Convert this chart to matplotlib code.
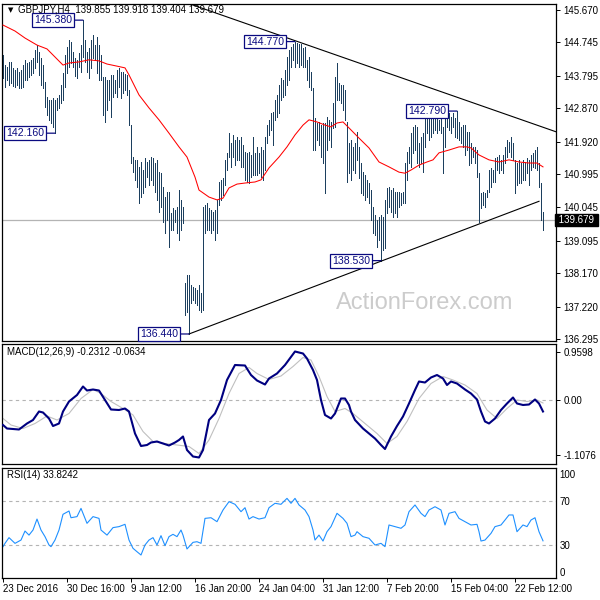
import matplotlib
matplotlib.use('Agg')
import matplotlib.pyplot as plt
import matplotlib.transforms as mtransforms

plt.rcParams['font.family'] = ['Liberation Sans', 'DejaVu Sans']

# ---------------- data ----------------
highs = [
    144.39, 144.10, 144.05, 144.19, 144.19, 144.02, 143.96, 144.02, 143.90, 143.96,
    144.10, 144.25, 144.16, 144.19, 144.25, 144.30, 144.53, 144.67, 144.47, 144.30,
    144.10, 143.62, 143.19, 143.11, 143.11, 143.16, 143.11, 143.16, 143.25, 143.53,
    143.88, 144.39, 144.62, 144.82, 144.76, 144.47, 144.30, 144.25, 144.45, 144.67,
    145.38, 144.82, 144.47, 144.59, 144.82, 144.96, 144.67, 144.90, 144.67, 144.39,
    143.76, 143.76, 143.68, 143.68, 143.82, 143.82, 143.68, 143.96, 144.02, 143.90,
    143.90, 143.85, 143.82, 143.39, 142.39, 141.48, 141.40, 141.40, 141.20, 141.34,
    141.11, 141.45, 141.34, 141.40, 141.48, 141.45, 141.31, 141.40, 141.05, 141.02,
    140.63, 140.34, 140.48, 140.48, 139.88, 140.03, 139.97, 140.06, 140.54, 140.26,
    140.06, 137.89, 138.12, 138.12, 137.83, 137.78, 137.75, 137.69, 137.83, 137.60,
    140.06, 140.11, 140.17, 140.03, 139.97, 139.91, 139.97, 140.26, 140.77, 140.83,
    140.88, 141.40, 141.60, 142.16, 141.88, 142.11, 141.97, 142.05, 141.97, 142.05,
    141.82, 141.62, 141.60, 141.62, 141.54, 142.05, 141.60, 141.77, 141.60, 141.77,
    141.68, 142.05, 142.39, 142.54, 142.74, 142.76, 143.11, 143.25, 143.53, 143.73,
    143.68, 143.96, 144.33, 144.53, 144.62, 144.70, 144.77, 144.72, 144.70, 144.71,
    144.59, 144.62, 144.25, 144.33, 143.90, 143.45, 142.59, 142.45, 142.48, 142.39,
    142.45, 142.45, 142.62, 142.54, 142.48, 143.02, 143.76, 144.16, 143.59, 143.53,
    143.53, 143.39, 142.48, 141.88, 141.97, 141.77, 141.88, 142.19, 141.77, 141.31,
    141.05, 140.97, 140.83, 140.74, 140.54, 140.06, 139.83, 139.69, 139.77, 139.83,
    139.77, 140.26, 140.60, 140.63, 140.54, 140.60, 140.48, 140.48, 140.48, 140.45,
    140.48, 141.31, 141.62, 141.77, 142.16, 142.34, 142.39, 142.34, 141.88, 142.05,
    142.16, 142.68, 142.74, 142.59, 142.59, 142.62, 142.59, 142.62, 142.54, 142.74,
    142.34, 142.62, 142.75, 142.74, 142.62, 142.74, 142.59, 142.79, 142.48, 142.34,
    142.39, 142.39, 142.19, 142.19, 141.88, 141.77, 141.77, 141.68, 141.02, 140.45,
    140.48, 140.45, 140.54, 141.11, 141.17, 141.11, 141.45, 141.48, 141.54, 141.40,
    141.54, 141.77, 141.97, 141.91, 142.05, 141.88, 141.40, 141.31, 141.40, 141.31,
    141.40, 141.34, 141.45, 141.40, 141.54, 141.60, 141.68, 141.77, 141.31, 140.74,
    139.918,
]
lows = [
    143.73, 143.48, 143.68, 143.53, 143.59, 143.51, 143.48, 143.53, 143.45, 143.45,
    143.48, 143.68, 143.68, 143.76, 143.82, 143.88, 144.02, 144.19, 143.82, 143.53,
    143.45, 142.91, 142.68, 142.54, 142.45, 142.34, 142.16, 142.82, 142.88, 143.02,
    143.11, 143.48, 143.88, 144.05, 144.16, 144.05, 143.79, 143.73, 144.05, 143.90,
    144.33, 144.19, 143.90, 143.73, 144.02, 144.30, 144.25, 143.88, 143.68, 143.68,
    142.68, 142.48, 142.82, 143.11, 142.62, 143.19, 143.30, 143.19, 143.48, 143.16,
    143.30, 143.39, 143.25, 142.39, 141.31, 141.05, 140.83, 140.63, 140.17, 140.34,
    140.45, 140.63, 140.91, 140.68, 140.83, 140.68, 140.48, 140.26, 139.91, 140.06,
    139.63, 139.32, 139.69, 138.92, 139.40, 139.40, 139.63, 139.32, 139.12, 139.40,
    139.60, 136.98, 137.06, 136.44, 137.32, 137.41, 137.32, 137.26, 137.12, 137.06,
    137.12, 139.32, 139.40, 139.40, 139.32, 139.40, 139.12, 139.32, 140.11, 140.26,
    140.40, 140.68, 141.11, 141.48, 141.20, 141.48, 141.25, 141.40, 141.40, 141.20,
    141.20, 140.83, 140.77, 140.74, 140.91, 140.97, 140.97, 140.97, 141.02, 140.91,
    140.83, 141.11, 141.88, 142.11, 142.25, 141.82, 142.54, 142.62, 142.74, 143.11,
    143.19, 143.25, 143.53, 143.68, 144.05, 144.25, 144.05, 144.16, 144.05, 144.10,
    144.05, 144.05, 143.68, 143.48, 143.39, 141.68, 141.68, 141.97, 141.82, 141.48,
    141.31, 140.45, 141.68, 141.97, 141.77, 142.31, 142.34, 143.11, 143.11, 143.02,
    142.82, 142.54, 140.77, 141.02, 140.83, 141.11, 141.02, 141.40, 140.88, 140.45,
    140.40, 140.26, 140.34, 140.17, 139.69, 139.32, 139.26, 138.92, 139.12, 138.53,
    138.83, 138.89, 139.88, 140.06, 139.91, 139.77, 139.88, 139.77, 140.06, 140.11,
    140.17, 140.17, 140.83, 141.31, 141.20, 141.60, 141.68, 141.31, 141.20, 141.31,
    141.05, 141.77, 142.16, 141.97, 142.05, 142.16, 142.25, 142.16, 142.25, 142.16,
    141.02, 141.77, 142.34, 142.25, 142.16, 142.34, 142.05, 142.02, 141.97, 141.88,
    141.77, 141.54, 141.68, 141.25, 141.31, 141.48, 141.31, 140.91, 139.63, 140.03,
    140.11, 140.06, 140.34, 140.48, 140.63, 140.77, 140.77, 141.11, 141.02, 141.11,
    141.02, 141.31, 141.48, 141.62, 141.48, 141.40, 140.45, 140.68, 140.74, 140.74,
    140.83, 140.83, 141.02, 140.68, 141.11, 141.20, 141.17, 141.11, 140.63, 139.69,
    139.404,
]
bar_idx = list(range(len(highs)))

ma_idx = [0, 6, 11, 17, 22, 26, 30, 33, 38, 43,
          48, 52, 57, 61, 63, 68, 73, 78, 83, 88,
          92, 96, 98, 103, 107, 110, 113, 117, 121, 126,
          129, 133, 138, 142, 146, 150, 153, 157, 161, 164,
          167, 170, 173, 178, 183, 188, 193, 198, 201, 204,
          208, 212, 215, 218, 223, 228, 232, 234, 238, 243,
          248, 253, 258, 263, 267, 270]
ma_vals = [145.24, 145.07, 144.87, 144.67, 144.56, 144.33, 144.10, 144.16, 144.19, 144.25,
           144.22, 144.13, 144.07, 144.02, 143.82, 143.25, 142.88, 142.54, 142.16, 141.77,
           141.48, 140.91, 140.54, 140.34, 140.26, 140.31, 140.60, 140.71, 140.74, 140.77,
           140.83, 141.17, 141.48, 141.77, 142.11, 142.39, 142.54, 142.48, 142.39, 142.34,
           142.45, 142.48, 142.31, 142.02, 141.74, 141.34, 141.20, 141.05, 141.02, 141.11,
           141.25, 141.34, 141.40, 141.60, 141.68, 141.77, 141.77, 141.74, 141.54, 141.40,
           141.34, 141.40, 141.34, 141.31, 141.31, 141.20]

macd_idx = [0, 2, 8, 12, 15, 18, 20, 23, 25, 28,
            30, 33, 37, 40, 42, 45, 48, 51, 54, 58,
            61, 63, 66, 69, 72, 74, 77, 80, 83, 86,
            88, 90, 92, 95, 98, 100, 103, 106, 109, 112,
            116, 121, 124, 127, 131, 133, 137, 141, 146, 150,
            152, 155, 157, 159, 161, 164, 166, 169, 171, 173,
            174, 176, 180, 183, 186, 189, 191, 194, 197, 200,
            203, 206, 208, 211, 214, 217, 220, 222, 224, 227,
            231, 234, 237, 239, 241, 243, 246, 249, 252, 255,
            257, 260, 263, 266, 268, 270]
macd_vals = [-0.50, -0.57, -0.59, -0.47, -0.40, -0.23, -0.25, -0.37, -0.52, -0.47,
             -0.23, -0.03, 0.10, 0.27, 0.19, 0.21, 0.19, 0.00, -0.19, -0.20,
             -0.17, -0.23, -0.67, -0.92, -0.90, -0.85, -0.83, -0.87, -0.91, -0.85,
             -0.80, -0.73, -1.00, -1.13, -1.15, -1.00, -0.40, -0.27, 0.00, 0.40,
             0.70, 0.69, 0.50, 0.39, 0.31, 0.43, 0.53, 0.70, 0.97, 0.93,
             0.83, 0.60, 0.40, 0.00, -0.30, -0.37, -0.27, 0.03, 0.03, -0.10,
             -0.23, -0.40, -0.57, -0.67, -0.77, -0.90, -0.98, -0.73, -0.52, -0.33,
             -0.07, 0.20, 0.37, 0.35, 0.45, 0.50, 0.43, 0.30, 0.37, 0.33,
             0.21, 0.13, 0.01, -0.23, -0.43, -0.47, -0.37, -0.20, -0.07, 0.05,
             -0.07, -0.10, -0.09, 0.01, -0.07, -0.23]

signal_idx = [0, 4, 10, 16, 22, 27, 33, 39, 45, 49,
              54, 60, 65, 70, 75, 81, 87, 93, 98, 103,
              108, 113, 118, 123, 127, 133, 139, 145, 150, 154,
              158, 162, 166, 171, 175, 181, 187, 192, 197, 202,
              208, 214, 220, 225, 231, 237, 242, 247, 252, 257,
              262, 267, 270]
signal_vals = [-0.37, -0.50, -0.57, -0.47, -0.32, -0.40, -0.27, 0.03, 0.21, 0.13,
               -0.03, -0.17, -0.30, -0.63, -0.83, -0.87, -0.90, -0.93, -1.07, -0.80,
               -0.37, 0.13, 0.53, 0.65, 0.53, 0.41, 0.48, 0.67, 0.85, 0.80,
               0.47, 0.07, -0.23, -0.17, -0.27, -0.47, -0.67, -0.87, -0.73, -0.43,
               0.03, 0.33, 0.47, 0.40, 0.30, 0.13, -0.20, -0.37, -0.17, 0.00,
               -0.03, 0.00, -0.06]

rsi_idx = [0, 1, 3, 6, 9, 11, 13, 15, 17, 19,
           21, 23, 24, 26, 28, 30, 33, 34, 37, 39,
           42, 45, 48, 49, 52, 55, 58, 61, 63, 65,
           67, 69, 71, 73, 75, 77, 79, 81, 83, 85,
           87, 89, 90, 92, 95, 97, 99, 101, 104, 107,
           110, 113, 116, 119, 121, 123, 125, 128, 131, 133,
           136, 139, 142, 144, 146, 148, 151, 153, 155, 156,
           158, 160, 162, 164, 167, 170, 172, 174, 176, 177,
           180, 183, 186, 189, 191, 193, 196, 199, 201, 203,
           206, 209, 211, 213, 216, 219, 221, 223, 226, 228,
           231, 234, 237, 238, 239, 241, 244, 246, 249, 251,
           253, 255, 257, 260, 262, 264, 266, 268, 270]
rsi_vals = [28.5, 31.5, 36.7, 31.5, 34.5, 42.7, 39.0, 43.6, 53.6, 43.6,
            37.6, 30.0, 28.5, 34.5, 43.6, 57.9, 60.9, 54.8, 55.8, 63.3,
            49.7, 55.8, 54.2, 43.6, 39.0, 45.8, 46.7, 48.8, 34.5, 27.0,
            23.9, 20.9, 30.0, 34.5, 36.7, 30.0, 38.5, 29.4, 37.6, 39.7,
            37.6, 43.6, 39.0, 26.4, 32.4, 33.0, 31.5, 54.2, 54.8, 51.2,
            61.8, 69.4, 67.0, 60.3, 63.9, 53.6, 55.8, 53.6, 54.8, 63.9,
            67.9, 67.0, 72.4, 67.9, 72.4, 66.4, 61.8, 55.8, 43.6, 34.5,
            39.0, 33.6, 42.1, 46.7, 58.8, 54.2, 49.7, 37.6, 39.0, 42.1,
            37.6, 36.1, 30.0, 31.5, 28.5, 48.2, 46.7, 45.2, 48.2, 60.3,
            66.4, 58.8, 55.8, 61.8, 64.8, 61.8, 48.2, 58.8, 60.3, 54.2,
            51.2, 48.2, 48.8, 42.1, 33.6, 34.5, 40.6, 46.7, 48.2, 52.7,
            57.3, 57.3, 42.1, 48.2, 46.7, 52.7, 54.8, 42.1, 33.8]

# labelled swing points
swing_idx = [40, 26, 146, 227, 189, 93]
swing_vals = [145.380, 142.160, 144.770, 142.790, 138.530, 136.440]

# trend lines (index, price)
upper_idx = [92, 277]
upper_vals = [145.87, 142.19]
lower_idx = [93, 268]
lower_vals = [136.44, 140.22]

last_price = 139.679
header = 'GBPJPY,H4  139.855 139.918 139.404 139.679'

price_ticks = [145.670, 144.745, 143.795, 142.870, 141.920, 140.995,
               140.045, 139.095, 138.170, 137.220, 136.295]
macd_ticks = [0.9598, 0.0, -1.1076]
macd_tick_labels = ['0.9598', '0.00', '-1.1076']
rsi_tick_pos = [94.5, 70, 30, 5.5]
rsi_tick_labels = ['100', '70', '30', '0']
x_tick_idx = [0, 32, 64, 96, 128, 160, 192, 224, 256]
x_tick_labels = ['23 Dec 2016', '30 Dec 16:00', '9 Jan 12:00', '16 Jan 20:00',
                 '24 Jan 04:00', '31 Jan 12:00', '7 Feb 20:00', '15 Feb 04:00',
                 '22 Feb 12:00']

# ---------------- figure ----------------
W, H = 600, 600
fig = plt.figure(figsize=(6, 6), dpi=100)
fig.patch.set_facecolor('white')


def rect(x0, y0, x1, y1):
    return [x0 / W, 1 - y1 / H, (x1 - x0) / W, (y1 - y0) / H]


ax1 = fig.add_axes(rect(2, 4, 556, 341))
ax2 = fig.add_axes(rect(2, 344, 556, 464))
ax3 = fig.add_axes(rect(2, 468, 556, 578))

XLIM = (-0.5, 276.5)
FS = 7
for ax in (ax1, ax2, ax3):
    ax.set_xlim(*XLIM)
    ax.set_facecolor('white')
    for s in ax.spines.values():
        s.set_color('black')
        s.set_linewidth(0.9)
    ax.yaxis.tick_right()
    ax.tick_params(axis='y', which='both', right=True, left=False, labelright=True,
                   labelleft=False, length=3, width=0.7, pad=2.5, labelsize=FS,
                   colors='black')
    ax.tick_params(axis='x', bottom=False, labelbottom=False)

# ----- main price panel -----
ax1.set_ylim(136.24, 145.84)
ax1.axhline(last_price, color='#b4b4b4', lw=0.9, zorder=1)
ax1.vlines(bar_idx, lows, highs, color='#1c3f5e', lw=0.5, zorder=2,
           antialiased=False)
ax1.plot(ma_idx, ma_vals, color='#ff0000', lw=0.75, zorder=3)
ax1.plot(upper_idx, upper_vals, color='black', lw=0.8, zorder=4)
ax1.plot(lower_idx, lower_vals, color='black', lw=0.8, zorder=4)
ax1.set_yticks(price_ticks)
ax1.set_yticklabels([f'{v:.3f}' for v in price_ticks])

ax1.text(0.7635, 0.113, 'ActionForex.com', transform=ax1.transAxes,
         ha='center', va='center', fontsize=17, color='#cccccc', zorder=0)

navy = '#0a0a80'
for i, v in zip(swing_idx, swing_vals):
    ax1.annotate(f'{v:.3f}', xy=(i, v), xytext=(-8.0, 0), textcoords='offset points',
                 ha='right', va='center', fontsize=7.6, color=navy, zorder=6,
                 bbox=dict(boxstyle='square,pad=0.18', fc='white', ec=navy, lw=0.9),
                 arrowprops=dict(arrowstyle='-', color=navy, lw=0.9,
                                 shrinkA=0, shrinkB=0))

tr = mtransforms.blended_transform_factory(ax1.transAxes, ax1.transData)
ax1.text(1.0, last_price, ' 139.679 ', transform=tr, ha='left', va='center',
         fontsize=FS, color='white', zorder=7, clip_on=False,
         bbox=dict(boxstyle='square,pad=0.12', fc='black', ec='black'))

fig.text(7.5 / W, 1 - 10 / H, '\u25bc', fontsize=5, ha='left', va='center',
         family=['DejaVu Sans'])
fig.text(18 / W, 1 - 10 / H, header, fontsize=FS, ha='left', va='center')

# ----- MACD panel -----
ax2.set_ylim(-1.28, 1.12)
ax2.axhline(0, color='#b4b4b4', lw=0.8, ls=(0, (3, 3)), zorder=1)
ax2.plot(signal_idx, signal_vals, color='#c0c0c0', lw=0.8, zorder=2)
ax2.plot(macd_idx, macd_vals, color='#000080', lw=1.5, zorder=3)
ax2.set_yticks(macd_ticks)
ax2.set_yticklabels(macd_tick_labels)
fig.text(7 / W, 1 - 352 / H, 'MACD(12,26,9) -0.2312 -0.0634', fontsize=FS,
         ha='left', va='center')

# ----- RSI panel -----
ax3.set_ylim(0, 100)
for lvl in (70, 30):
    ax3.axhline(lvl, color='#b4b4b4', lw=0.8, ls=(0, (3, 3)), zorder=1)
ax3.plot(rsi_idx, rsi_vals, color='#1e90ff', lw=0.8, zorder=2)
ax3.set_yticks(rsi_tick_pos)
ax3.set_yticklabels(rsi_tick_labels)
ax3.tick_params(axis='y', length=0)
fig.text(7 / W, 1 - 475 / H, 'RSI(14) 33.8242', fontsize=FS, ha='left', va='center')

ax3.set_xticks(x_tick_idx)
ax3.set_xticklabels(x_tick_labels)
ax3.tick_params(axis='x', bottom=True, labelbottom=True, length=3, width=0.7,
                pad=1.5, labelsize=FS, direction='out')
for lab in ax3.get_xticklabels():
    lab.set_horizontalalignment('left')

fig.savefig('out.png', dpi=100, facecolor='white')
